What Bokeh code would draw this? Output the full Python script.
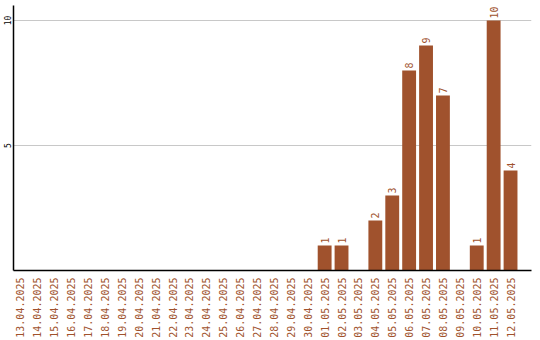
from bokeh.plotting import figure
from bokeh.models import ColumnDataSource, FixedTicker, Range1d
from bokeh.embed import file_html
from bokeh.resources import INLINE
from bokeh.core.properties import value

dates = ["13.04.2025", "14.04.2025", "15.04.2025", "16.04.2025", "17.04.2025",
         "18.04.2025", "19.04.2025", "20.04.2025", "21.04.2025", "22.04.2025",
         "23.04.2025", "24.04.2025", "25.04.2025", "26.04.2025", "27.04.2025",
         "28.04.2025", "29.04.2025", "30.04.2025", "01.05.2025", "02.05.2025",
         "03.05.2025", "04.05.2025", "05.05.2025", "06.05.2025", "07.05.2025",
         "08.05.2025", "09.05.2025", "10.05.2025", "11.05.2025", "12.05.2025"]
counts = [0, 0, 0, 0, 0, 0, 0, 0, 0, 0,
          0, 0, 0, 0, 0, 0, 0, 0, 1, 1,
          0, 2, 3, 8, 9, 7, 0, 1, 10, 4]
y_ticks = [5, 10]

BAR = "#a0522d"
FONT = "DejaVu Sans Mono"

xs = list(range(len(dates)))
nz = [i for i, c in enumerate(counts) if c > 0]
src = ColumnDataSource(dict(x=[xs[i] for i in nz], y=[counts[i] for i in nz],
                            lbl=[str(counts[i]) for i in nz]))

p = figure(width=540, height=340, output_backend="svg", toolbar_location=None,
           x_range=Range1d(-0.41, 30.24), y_range=Range1d(0, 10.6),
           min_border_left=0, min_border_top=5, min_border_right=9,
           min_border_bottom=2)
p.outline_line_color = None
p.background_fill_color = "white"
p.border_fill_color = "white"

p.vbar(x="x", top="y", width=0.82, source=src, fill_color=BAR, line_color=None)
p.text(x="x", y="y", text="lbl", source=src, angle=1.5708, text_align="left",
       text_baseline="middle", x_offset=0, y_offset=-2,
       text_font=value(FONT), text_font_size="10px", text_color=BAR)

p.xaxis.ticker = FixedTicker(ticks=xs)
p.xaxis.major_label_overrides = {i: d for i, d in enumerate(dates)}
p.xaxis.major_label_orientation = 1.5708
p.xaxis.major_label_text_font = FONT
p.xaxis.major_label_text_font_size = "10px"
p.xaxis.major_label_text_color = BAR
p.xaxis.major_tick_line_color = None
p.xaxis.minor_tick_line_color = None
p.xaxis.major_tick_out = 0
p.xaxis.minor_tick_out = 0
p.xaxis.major_label_standoff = 7
p.xaxis.axis_line_color = "black"
p.xaxis.axis_line_width = 1.5

p.yaxis.ticker = FixedTicker(ticks=y_ticks)
p.yaxis.major_label_orientation = "vertical"
p.yaxis.major_label_text_font = FONT
p.yaxis.major_label_text_font_size = "8px"
p.yaxis.major_label_text_color = "black"
p.yaxis.major_tick_line_color = None
p.yaxis.minor_tick_line_color = None
p.yaxis.major_tick_out = 0
p.yaxis.minor_tick_out = 0
p.yaxis.major_label_standoff = 3
p.yaxis.axis_line_color = "black"
p.yaxis.axis_line_width = 1.5

p.xgrid.grid_line_color = None
p.ygrid.grid_line_color = "#c8c8c8"
p.ygrid.ticker = FixedTicker(ticks=y_ticks)

open("out.html", "w").write(file_html(p, INLINE))
